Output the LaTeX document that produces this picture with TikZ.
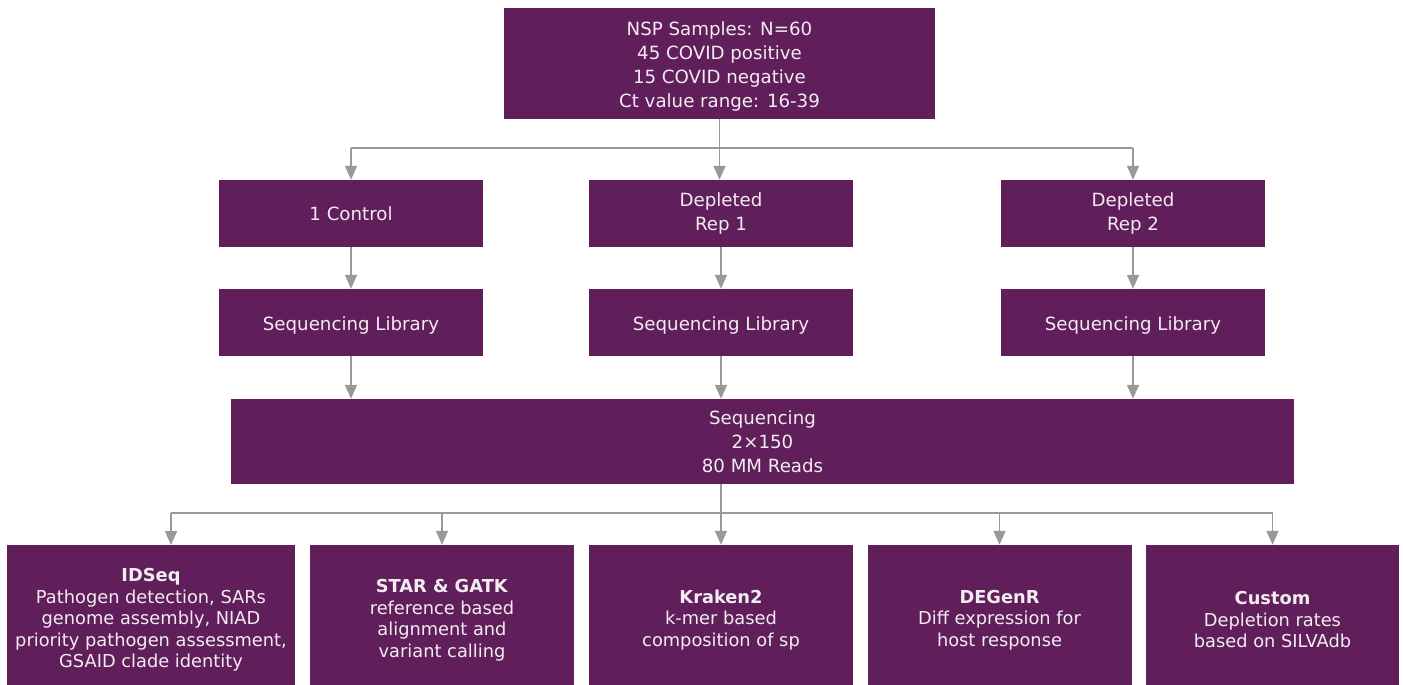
\documentclass[tikz,border=0pt]{standalone}
\usepackage{fontspec}
\setmainfont{DejaVu Sans}
\usetikzlibrary{arrows.meta}
\definecolor{boxpurple}{HTML}{601F5B}
\definecolor{linegray}{HTML}{999999}
\definecolor{txt}{HTML}{F2ECF1}
\begin{document}
\begin{tikzpicture}[x=1pt,y=-1pt,
  box/.style={fill=boxpurple,draw=none,inner sep=0pt,text=txt,align=center,font=\fontsize{18.2}{24}\selectfont},
  lowbox/.style={box,font=\fontsize{17.8}{21.5}\selectfont},
  conn/.style={draw=linegray,line width=1.6pt},
  arr/.style={conn,-{Triangle[width=12pt,length=14pt]}}]
\useasboundingbox (0,0) rectangle (1403,685);
\node[box,minimum width=431pt,minimum height=111pt] (top) at (719.5,63.5) {\rule{0pt}{20pt}NSP Samples: N=60\\45 COVID positive\\15 COVID negative\\Ct value range: 16-39};
\node[box,minimum width=264pt,minimum height=67pt] (c1) at (351,213.5) {1 Control};
\node[box,minimum width=264pt,minimum height=67pt] (c2) at (721,213.5) {Depleted\\Rep 1};
\node[box,minimum width=264pt,minimum height=67pt] (c3) at (1133,213.5) {Depleted\\Rep 2};
\node[box,minimum width=264pt,minimum height=67pt] (l1) at (351,322.5) {\rule{0pt}{19pt}Sequencing Library};
\node[box,minimum width=264pt,minimum height=67pt] (l2) at (721,322.5) {\rule{0pt}{19pt}Sequencing Library};
\node[box,minimum width=264pt,minimum height=67pt] (l3) at (1133,322.5) {\rule{0pt}{19pt}Sequencing Library};
\node[box,minimum width=1063pt,minimum height=85pt] (seq) at (762.5,441.5) {Sequencing\\2×150\\80 MM Reads};
\node[lowbox,minimum width=288pt,minimum height=150pt] (b1) at (151,620) {\textbf{IDSeq}\\Pathogen detection, SARs\\genome assembly, NIAD\\priority pathogen assessment,\\GSAID clade identity};
\node[lowbox,minimum width=264pt,minimum height=150pt] (b2) at (442,620) {\textbf{STAR \& GATK}\\reference based\\alignment and\\variant calling};
\node[lowbox,minimum width=264pt,minimum height=150pt] (b3) at (721,620) {\textbf{Kraken2}\\k-mer based\\composition of sp};
\node[lowbox,minimum width=264pt,minimum height=150pt] (b4) at (999.5,620) {\textbf{DEGenR}\\Diff expression for\\host response};
\node[lowbox,minimum width=253pt,minimum height=150pt] (b5) at (1272.5,620) {\textbf{Custom}\\Depletion rates\\based on SILVAdb};
% top fan-out
\coordinate (busL) at (351,148);
\coordinate (busR) at (1133,148);
\draw[conn] (busL) -- (busR);
\draw[arr] (top.south) -- (top.south |- c2.north);
\draw[arr] (busL) -- (c1.north);
\draw[arr] (busR) -- (c3.north);
% to libraries
\draw[arr] (c1) -- (l1);
\draw[arr] (c2) -- (l2);
\draw[arr] (c3) -- (l3);
% to sequencing
\draw[arr] (l1.south) -- (l1.south |- seq.north);
\draw[arr] (l2.south) -- (l2.south |- seq.north);
\draw[arr] (l3.south) -- (l3.south |- seq.north);
% bottom fan-out
\coordinate (bus2L) at (171,513);
\coordinate (bus2R) at (b5.north |- 0,513);
\coordinate (b1top) at (171,545);
\draw[conn] (bus2L) -- (bus2R);
\draw[arr] (b3.north |- seq.south) -- (b3.north);
\draw[arr] (bus2L) -- (b1top);
\draw[arr] (b2.north |- bus2L) -- (b2.north);
\draw[arr] (b4.north |- bus2L) -- (b4.north);
\draw[arr] (bus2R) -- (b5.north);
\end{tikzpicture}
\end{document}
